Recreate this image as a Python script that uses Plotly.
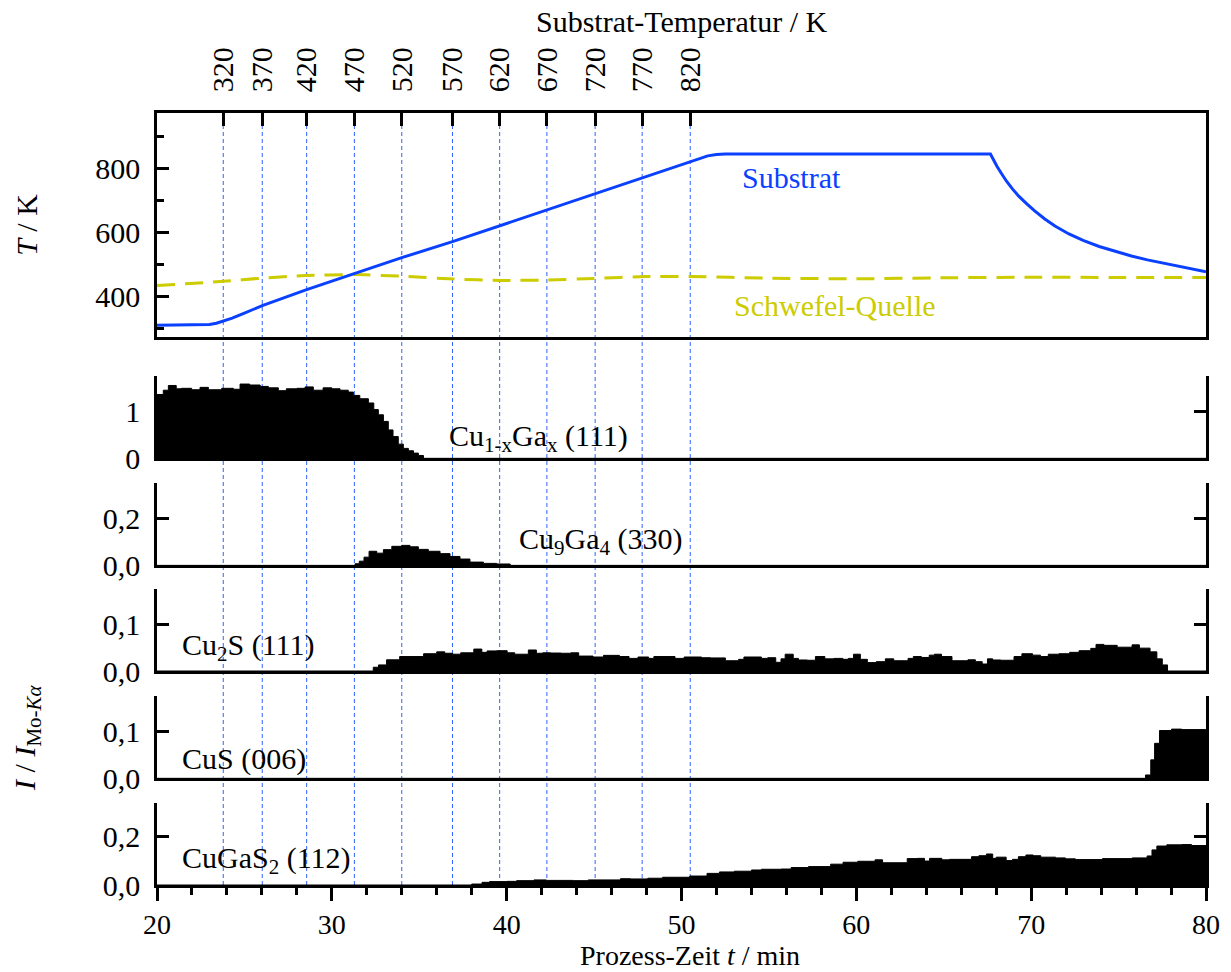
import plotly.graph_objects as go

# ---------------- data ----------------
# top axis: substrate temperature marks (K) and the process times where they are reached (min)
top_tick_temps = [320, 370, 420, 470, 520, 570, 620, 670, 720, 770, 820]
top_tick_times = [23.79, 26.02, 28.56, 31.29, 34.0, 36.9, 39.6, 42.3, 45.06, 47.75, 50.5]

# substrate temperature (K) vs time (min)
sub_t = [20.0, 21.0, 22.0, 22.6, 23.0, 23.4, 23.79, 24.3, 25.0, 26.02,
         28.56, 31.29, 34.0, 36.9, 39.6, 42.3, 45.06, 47.75, 50.5, 51.0,
         51.5, 52.0, 52.5, 67.67, 67.85, 68.05, 68.3, 68.6, 68.94, 69.29,
         69.75, 70.2, 70.78, 71.36, 72.16, 72.97, 73.89, 74.81, 75.73, 76.65,
         78.03, 78.95, 80.0]
sub_T = [309, 309, 309, 309, 311, 315, 321, 331, 347, 370,
         420, 470, 520, 570, 620, 670, 720, 770, 820, 831,
         838, 842, 844, 844, 825, 805, 783, 758, 734, 712,
         688, 666, 641, 619, 594, 574, 555, 539, 525, 513,
         497, 487, 476]

# sulfur source temperature (K)
sul_t = [20, 23.8, 26, 28.5, 31.3, 34, 37, 39.6, 42.3, 45, 48, 50.5, 55, 60, 65, 70, 75, 80]
sul_T = [433, 446, 456, 464, 467, 462, 453, 449, 450, 455, 461, 461, 456, 454, 457, 459, 458, 458]

# normalized intensities I / I(Mo-Ka): step start times (min) and values
cuga_t = [20.0, 20.36, 20.65, 21.1, 21.4, 21.98, 22.46, 22.94, 23.7, 24.37,
          24.75, 25.3, 25.9, 26.37, 26.94, 27.4, 28.0, 28.47, 28.94, 29.5,
          30.0, 30.47, 30.94, 31.23, 31.6, 32.09, 32.4, 32.66, 32.95, 33.23,
          33.5, 33.8, 34.09, 34.38, 34.67, 34.95, 35.24]
cuga_v = [1.35, 1.44, 1.54, 1.47, 1.48, 1.45, 1.50, 1.45, 1.48, 1.46,
          1.57, 1.55, 1.52, 1.49, 1.43, 1.47, 1.48, 1.51, 1.44, 1.49,
          1.47, 1.44, 1.40, 1.33, 1.26, 1.17, 1.03, 0.92, 0.78, 0.60,
          0.46, 0.30, 0.21, 0.16, 0.11, 0.06, 0.0]

cu9ga4_t = [20.0, 31.33, 31.57, 31.84, 32.13, 32.57, 32.95, 33.43, 34.0, 34.47,
            34.95, 35.52, 36.19, 36.76, 37.33, 37.9, 38.67, 39.43, 40.2]
cu9ga4_v = [0.0, 0.007, 0.018, 0.035, 0.060, 0.052, 0.067, 0.081, 0.085, 0.079,
            0.068, 0.060, 0.050, 0.038, 0.027, 0.014, 0.0085, 0.006, 0.0]

cu2s_t = [20.0, 32.37, 32.67, 33.13, 33.88, 35.25, 36.0, 36.46, 36.91, 37.37,
          38.12, 38.58, 38.88, 39.43, 40.03, 40.46, 41.24, 41.7, 42.06, 42.52,
          43.12, 43.67, 44.12, 44.94, 45.54, 46.45, 47.0, 47.51, 48.12, 48.42,
          49.63, 50.15, 51.15, 51.66, 52.51, 53.27, 53.57, 54.57, 54.93, 55.39,
          55.69, 55.93, 56.39, 56.69, 57.2, 57.66, 58.2, 58.72, 59.23, 59.54,
          59.84, 60.23, 60.63, 61.14, 61.66, 62.14, 62.96, 63.26, 63.72, 64.17,
          64.47, 64.87, 65.47, 66.38, 66.81, 67.2, 67.5, 67.8, 68.26, 69.02,
          69.47, 70.08, 70.53, 70.98, 71.59, 72.2, 72.74, 73.41, 73.71, 74.16,
          74.92, 75.77, 76.19, 76.8, 77.19, 77.5, 77.8]
cu2s_v = [0.0, 0.008, 0.013, 0.024, 0.031, 0.037, 0.041, 0.038, 0.036, 0.039,
          0.047, 0.040, 0.043, 0.0435, 0.039, 0.036, 0.045, 0.038, 0.039, 0.0385,
          0.038, 0.039, 0.032, 0.030, 0.0335, 0.031, 0.027, 0.030, 0.027, 0.031,
          0.027, 0.030, 0.0285, 0.028, 0.022, 0.025, 0.030, 0.027, 0.0285, 0.0186,
          0.026, 0.036, 0.027, 0.0236, 0.023, 0.031, 0.026, 0.027, 0.025, 0.027,
          0.036, 0.025, 0.018, 0.020, 0.026, 0.022, 0.027, 0.031, 0.029, 0.034,
          0.036, 0.031, 0.022, 0.024, 0.020, 0.015, 0.026, 0.0236, 0.023, 0.031,
          0.037, 0.034, 0.031, 0.036, 0.037, 0.040, 0.0435, 0.0485, 0.057, 0.055,
          0.051, 0.056, 0.049, 0.041, 0.026, 0.013, 0.0]

cus_t = [20.0, 76.54, 76.84, 77.06, 77.34, 78.03, 78.61]
cus_v = [0.0, 0.007, 0.039, 0.074, 0.101, 0.104, 0.103]

cugas2_t = [20.0, 38.0, 38.59, 39.02, 40.01, 40.57, 41.56, 42.27, 43.82, 44.67,
            46.51, 47.08, 48.07, 48.92, 50.47, 51.46, 52.17, 53.02, 54.0, 54.57,
            55.7, 56.27, 57.26, 58.53, 59.24, 60.08, 61.07, 61.5, 62.91, 63.48,
            63.9, 64.19, 64.89, 65.32, 66.59, 67.01, 67.44, 67.8, 68.0, 68.57,
            68.93, 69.27, 69.7, 70.12, 70.55, 71.4, 71.96, 72.53, 74.08, 75.78,
            76.63, 76.91, 77.19, 77.76, 78.61, 79.17]
cugas2_v = [0.0, 0.004, 0.011, 0.014, 0.015, 0.018, 0.021, 0.019, 0.018, 0.021,
            0.026, 0.025, 0.028, 0.032, 0.037, 0.048, 0.054, 0.057, 0.062, 0.065,
            0.066, 0.072, 0.076, 0.086, 0.094, 0.098, 0.104, 0.092, 0.109, 0.110,
            0.099, 0.110, 0.104, 0.106, 0.117, 0.121, 0.128, 0.110, 0.115, 0.101,
            0.106, 0.117, 0.124, 0.121, 0.115, 0.112, 0.108, 0.105, 0.109, 0.112,
            0.120, 0.145, 0.161, 0.166, 0.167, 0.163]

t_end = 80.0

panel_labels = ["Cu<sub>1-x</sub>Ga<sub>x</sub> (111)", "Cu<sub>9</sub>Ga<sub>4</sub> (330)",
                "Cu<sub>2</sub>S (111)", "CuS (006)", "CuGaS<sub>2</sub> (112)"]

# ---------------- styling ----------------
FONT = "Liberation Serif"
FS = 30
BLUE = "#0a40ff"
YELLOW = "#cccc00"
GRID_BLUE = "#2f63ff"
LW = 2.5

fig = go.Figure()

fig.add_trace(go.Scatter(x=sul_t, y=sul_T, mode="lines", xaxis="x", yaxis="y",
                         line=dict(color=YELLOW, width=3, dash="18px,10px", shape="spline", smoothing=0.6),
                         showlegend=False))
fig.add_trace(go.Scatter(x=sub_t, y=sub_T, mode="lines", xaxis="x", yaxis="y",
                         line=dict(color=BLUE, width=3), showlegend=False))

series = [(cuga_t, cuga_v), (cu9ga4_t, cu9ga4_v), (cu2s_t, cu2s_v), (cus_t, cus_v), (cugas2_t, cugas2_v)]
for i, (ts, vs) in enumerate(series):
    k = i + 2
    fig.add_trace(go.Scatter(x=list(ts) + [t_end], y=list(vs) + [vs[-1]], mode="lines",
                             line=dict(color="black", width=1, shape="hv"),
                             fill="tozeroy", fillcolor="black",
                             xaxis=f"x{k}", yaxis=f"y{k}", showlegend=False))

# panel layout (paper fractions)
domains = [[0.7098, 1.0], [0.5527, 0.6593], [0.414, 0.521], [0.2772, 0.383], [0.1382, 0.2448], [0.0, 0.1066]]
yranges = [[272, 972], [0, 1.74], [0, 0.351], [0, 0.175], [0, 0.174], [0, 0.34]]
ytickvals = [[400, 600, 800], [0, 1], [0, 0.2], [0, 0.1], [0, 0.1], [0, 0.2]]
yticktext = [["400", "600", "800"], ["0", "1"], ["0,0", "0,2"], ["0,0", "0,1"], ["0,0", "0,1"], ["0,0", "0,2"]]

tickfont = dict(family=FONT, size=FS, color="black")
layout = dict(
    width=1231, height=972,
    margin=dict(l=157, r=25, t=113, b=87),
    paper_bgcolor="white", plot_bgcolor="rgba(0,0,0,0)",
    font=dict(family=FONT, size=FS, color="black"),
    showlegend=False,
)

layout["xaxis"] = dict(domain=[0, 1], anchor="y", side="top", range=[20, 80],
                       tickmode="array", tickvals=top_tick_times, ticktext=[str(v) for v in top_tick_temps],
                       ticks="inside", ticklen=13, tickwidth=LW, tickcolor="black", tickangle=-90,
                       ticklabelstandoff=12, tickfont=tickfont,
                       showline=True, linewidth=LW, linecolor="black", mirror=True,
                       showgrid=False, zeroline=False)
layout["yaxis"] = dict(domain=domains[0], anchor="x", range=yranges[0],
                       tickmode="array", tickvals=ytickvals[0], ticktext=yticktext[0],
                       ticks="inside", ticklen=12, tickwidth=LW, tickcolor="black",
                       minor=dict(tickmode="array", tickvals=[300, 500, 700, 900], ticks="inside",
                                  ticklen=7, tickwidth=LW, tickcolor="black", showgrid=False),
                       ticklabelstandoff=8, tickfont=tickfont,
                       showline=True, linewidth=LW, linecolor="black", mirror=True,
                       showgrid=False, zeroline=False)

for k in range(2, 7):
    xa = dict(domain=[0, 1], anchor=f"y{k}", range=[20, 80], showline=True, linewidth=LW,
              linecolor="black", showgrid=False, zeroline=False, mirror=False)
    if k < 6:
        xa.update(ticks="", showticklabels=False)
    else:
        xa.update(tickmode="linear", tick0=20, dtick=10, ticks="outside", ticklen=13,
                  tickwidth=LW, tickcolor="black", tickfont=dict(family=FONT, size=28, color="black"),
                  ticklabelstandoff=0,
                  minor=dict(dtick=2, tick0=20, ticks="outside", ticklen=7, tickwidth=LW,
                             tickcolor="black", showgrid=False))
    layout[f"xaxis{k}"] = xa
    layout[f"yaxis{k}"] = dict(domain=domains[k - 1], anchor=f"x{k}", range=yranges[k - 1],
                               tickmode="array", tickvals=ytickvals[k - 1], ticktext=yticktext[k - 1],
                               ticks="inside", ticklen=12, tickwidth=LW, tickcolor="black",
                               ticklabelstandoff=8, tickfont=tickfont,
                               showline=True, linewidth=LW, linecolor="black", mirror="ticks",
                               showgrid=False, zeroline=False)

fig.update_layout(**layout)

# vertical dotted lines at the temperature marks
for t in top_tick_times:
    fig.add_shape(type="line", xref="x", yref="paper", x0=t, x1=t, y0=0, y1=1,
                  line=dict(color=GRID_BLUE, width=1, dash="4px,3px"), layer="below")

# annotations
ann_font = dict(family=FONT, size=FS, color="black")
fig.add_annotation(text="Substrat-Temperatur / K", xref="paper", yref="paper", x=0.5, y=1.1179,
                   showarrow=False, font=ann_font, xanchor="center", yanchor="middle")
fig.add_annotation(text="<i>T</i> / K", xref="paper", yref="paper", x=-0.124, y=0.855,
                   showarrow=False, font=ann_font, textangle=-90, xanchor="center", yanchor="middle")
fig.add_annotation(text="<i>I</i> / <i>I</i><sub>Mo-<i>Kα</i></sub>", xref="paper", yref="paper",
                   x=-0.124, y=0.1917, showarrow=False, font=ann_font, textangle=-90,
                   xanchor="center", yanchor="middle")
fig.add_annotation(text="Prozess-Zeit <i>t</i> / min", xref="paper", yref="paper", x=0.508, y=-0.0907,
                   showarrow=False, font=dict(family=FONT, size=28, color="black"),
                   xanchor="center", yanchor="middle")
fig.add_annotation(text="Substrat", xref="x", yref="y", x=56.27, y=770, showarrow=False,
                   font=dict(family=FONT, size=FS, color=BLUE), xanchor="center", yanchor="middle")
fig.add_annotation(text="Schwefel-Quelle", xref="x", yref="y", x=58.8, y=372, showarrow=False,
                   font=dict(family=FONT, size=FS, color=YELLOW), xanchor="center", yanchor="middle")

label_pos = [(36.6, 0.43), (40.6, 0.103), (21.32, 0.051), (21.32, 0.041), (21.32, 0.1035)]
for i, (txt, (lx, ly)) in enumerate(zip(panel_labels, label_pos)):
    k = i + 2
    fig.add_annotation(text=txt, xref=f"x{k}", yref=f"y{k}", x=lx, y=ly, showarrow=False,
                       font=ann_font, xanchor="left", yanchor="middle")

fig.write_html("out.html")
